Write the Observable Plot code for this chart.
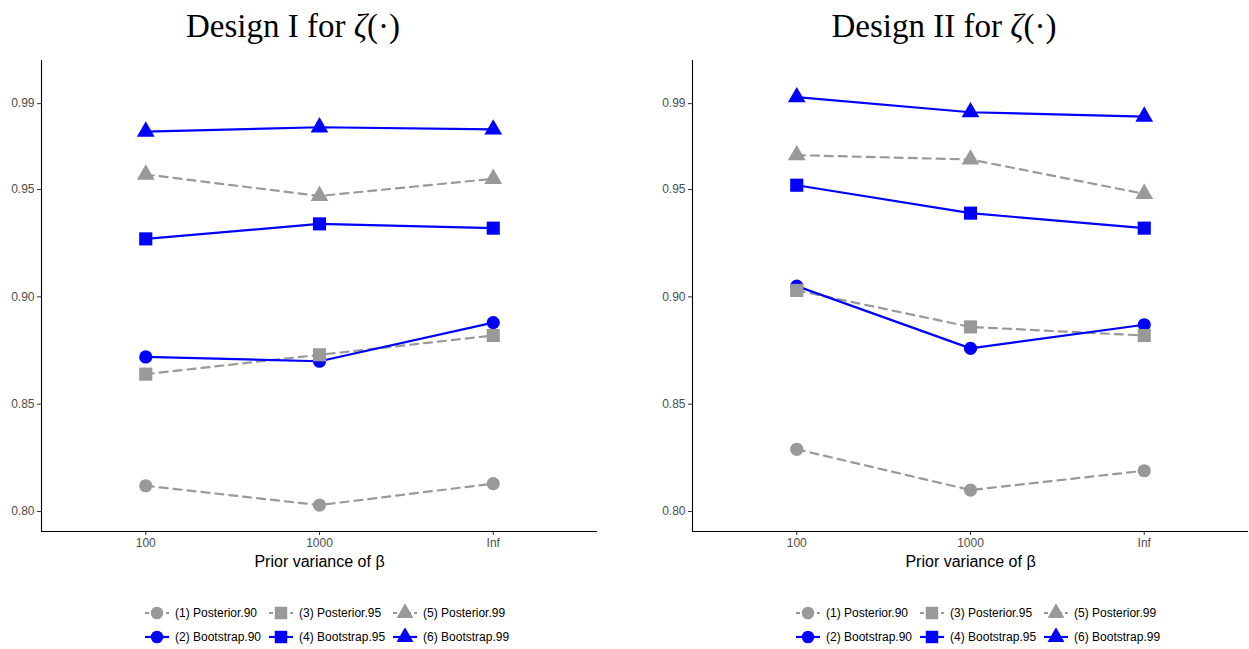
<!DOCTYPE html>
<html><head><meta charset="utf-8">
<script src="https://cdn.jsdelivr.net/npm/d3@7"></script>
<script src="https://cdn.jsdelivr.net/npm/@observablehq/plot@0.6"></script>
<style>
body{margin:0;background:#fff;width:1249px;height:649px;overflow:hidden;position:relative;font-family:"Liberation Sans",Arial,sans-serif}
.panel{position:absolute;top:0;height:649px}
.title{position:absolute;top:10px;left:0;width:586px;height:33px;line-height:33px;text-align:center;font-family:"Liberation Serif","Times New Roman",serif;font-size:33px;color:#000;white-space:nowrap}
.plotwrap{position:absolute;top:60px;left:0}
.legend{position:absolute;top:601px;left:145px;display:grid;grid-auto-flow:column;grid-template-rows:24px 24px;column-gap:8px;font-size:12px;color:#000}
.item{display:flex;align-items:center;white-space:nowrap}
.item svg{margin-right:6px}
</style></head>
<body>
<div id="p1" class="panel" style="left:0;width:625px"></div>
<div id="p2" class="panel" style="left:651px;width:598px"></div>
<script>
const xLabels = ["100", "1000", "Inf"];
const yTicks = [0.80, 0.85, 0.90, 0.95, 0.99];
const seriesNames = ["(1) Posterior.90", "(2) Bootstrap.90", "(3) Posterior.95", "(4) Bootstrap.95", "(5) Posterior.99", "(6) Bootstrap.99"];
const seriesMethod = ["Posterior", "Bootstrap", "Posterior", "Bootstrap", "Posterior", "Bootstrap"];
const seriesSymbol = ["circle", "circle", "square", "square", "triangle", "triangle"];
const titles = ["Design I for ", "Design II for "];

// Design I
const d1Posterior90 = [0.812, 0.803, 0.813];
const d1Bootstrap90 = [0.872, 0.870, 0.888];
const d1Posterior95 = [0.864, 0.873, 0.882];
const d1Bootstrap95 = [0.927, 0.934, 0.932];
const d1Posterior99 = [0.957, 0.947, 0.955];
const d1Bootstrap99 = [0.977, 0.979, 0.978];
// Design II
const d2Posterior90 = [0.829, 0.810, 0.819];
const d2Bootstrap90 = [0.905, 0.876, 0.887];
const d2Posterior95 = [0.903, 0.886, 0.882];
const d2Bootstrap95 = [0.952, 0.939, 0.932];
const d2Posterior99 = [0.966, 0.964, 0.948];
const d2Bootstrap99 = [0.993, 0.986, 0.984];

const design1 = [d1Posterior90, d1Bootstrap90, d1Posterior95, d1Bootstrap95, d1Posterior99, d1Bootstrap99];
const design2 = [d2Posterior90, d2Bootstrap90, d2Posterior95, d2Bootstrap95, d2Posterior99, d2Bootstrap99];

const methodColor = {Posterior: "#999999", Bootstrap: "#0000ff"};
const symbolR = {circle: 6.6, square: 7.4, triangle: 6.6};
const yMin = 0.7907, yMax = 1.0101;

function buildRows(series) {
  const rows = [];
  series.forEach((vals, s) => vals.forEach((v, i) => rows.push({
    x: i, y: v, series: seriesNames[s], method: seriesMethod[s], symbol: seriesSymbol[s]
  })));
  return rows;
}

function makePlot(rows, width, marginRight) {
  const dotMarks = ["circle", "square", "triangle"].map(sym =>
    Plot.dot(rows.filter(d => d.symbol === sym), {
      x: "x", y: "y", symbol: sym, r: symbolR[sym],
      fill: d => methodColor[d.method], stroke: "none"
    }));
  return Plot.plot({
    width, height: 520,
    marginLeft: 41, marginRight, marginTop: 0, marginBottom: 49,
    style: {fontFamily: "'Liberation Sans', Arial, sans-serif", fontSize: "12px", color: "#4d4d4d", background: "white", overflow: "visible"},
    x: {domain: [-0.6, 2.6]},
    y: {domain: [yMin, yMax]},
    marks: [
      Plot.axisY({ticks: yTicks, tickFormat: d3.format(".2f"), tickSize: 4, tickPadding: 3, label: null, stroke: "#333", fill: "#4d4d4d", fontSize: 12}),
      Plot.axisX({ticks: [0, 1, 2], tickFormat: i => xLabels[i], tickSize: 4, tickPadding: 3, label: null, stroke: "#333", fill: "#4d4d4d", fontSize: 12}),
      Plot.ruleX([-0.6], {stroke: "black", strokeWidth: 1.1}),
      Plot.ruleY([yMin], {stroke: "black", strokeWidth: 1.1}),
      Plot.text(["Prior variance of β"], {frameAnchor: "bottom", dy: 35, fontSize: 16, fill: "black", text: d => d}),
      Plot.line(rows.filter(d => d.method === "Posterior"), {x: "x", y: "y", z: "series", stroke: methodColor.Posterior, strokeWidth: 2.2, strokeDasharray: "8,6"}),
      Plot.line(rows.filter(d => d.method === "Bootstrap"), {x: "x", y: "y", z: "series", stroke: methodColor.Bootstrap, strokeWidth: 2.2}),
      ...dotMarks
    ]
  });
}

function legendKey(s) {
  const svg = d3.create("svg").attr("width", 24).attr("height", 18);
  const m = seriesMethod[s];
  svg.append("line").attr("x1", 0).attr("x2", 24).attr("y1", 9).attr("y2", 9)
    .attr("stroke", methodColor[m]).attr("stroke-width", 2.2)
    .attr("stroke-dasharray", m === "Posterior" ? "4,3" : null);
  const sym = {circle: d3.symbolCircle, square: d3.symbolSquare, triangle: d3.symbolTriangle}[seriesSymbol[s]];
  const r = symbolR[seriesSymbol[s]] * 0.95;
  svg.append("path").attr("transform", "translate(12,9)")
    .attr("d", d3.symbol(sym, r * r * Math.PI)()).attr("fill", methodColor[m]);
  return svg.node();
}

function render(id, series, title, width, marginRight) {
  const host = document.getElementById(id);
  const t = document.createElement("div");
  t.className = "title";
  t.innerHTML = title + "<i>ζ</i>(·)";
  host.appendChild(t);
  const w = document.createElement("div");
  w.className = "plotwrap";
  w.appendChild(makePlot(buildRows(series), width, marginRight));
  host.appendChild(w);
  const lg = document.createElement("div");
  lg.className = "legend";
  seriesNames.forEach((name, s) => {
    const it = document.createElement("div");
    it.className = "item";
    it.appendChild(legendKey(s));
    const sp = document.createElement("span");
    sp.textContent = name;
    it.appendChild(sp);
    lg.appendChild(it);
  });
  host.appendChild(lg);
}

render("p1", design1, titles[0], 625, 28);
render("p2", design2, titles[1], 598, 1);
</script>
</body></html>
